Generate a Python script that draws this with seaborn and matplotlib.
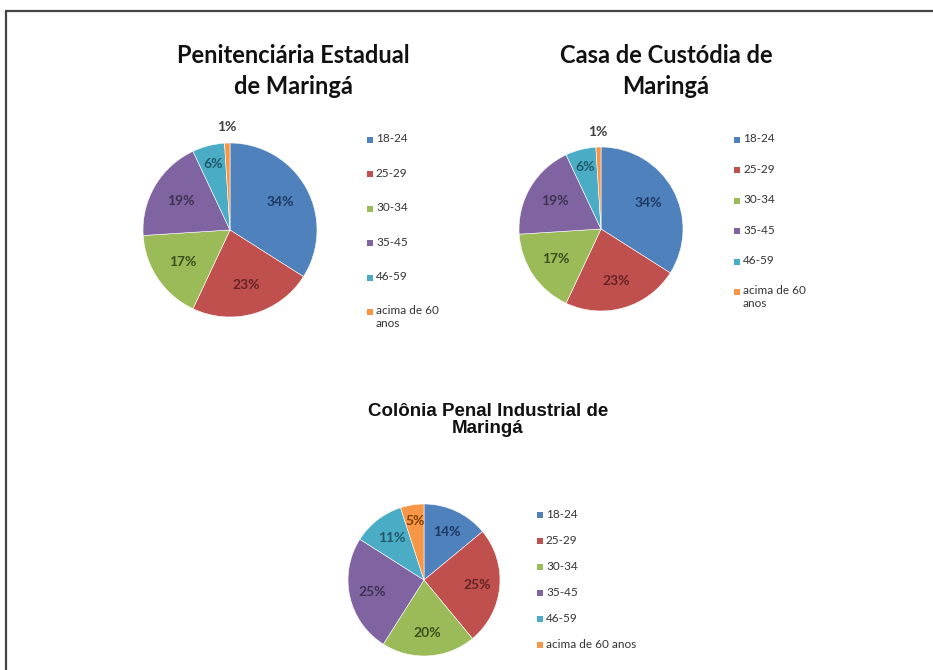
import numpy as np
import matplotlib
matplotlib.use("Agg")
import matplotlib.pyplot as plt
import seaborn as sns
from matplotlib.lines import Line2D
from matplotlib.patches import Rectangle

sns.set_theme(style="white")
plt.rcParams['font.family'] = ['Lato', 'DejaVu Sans']

# data
age_groups = ["18-24", "25-29", "30-34", "35-45", "46-59", "acima de 60 anos"]
penitenciaria = [34, 23, 17, 19, 6, 1]
casa_custodia = [34, 23, 17, 19, 6, 1]
colonia_penal = [14, 25, 20, 25, 11, 5]

titles = [
    "Penitenciária Estadual\nde Maringá",
    "Casa de Custódia de\nMaringá",
    "Colônia Penal Industrial de\nMaringá",
]

# Excel 2007 default palette
slice_colors = sns.color_palette(["#4F81BD", "#C0504D", "#9BBB59", "#8064A2", "#4BACC6", "#F79646"])
text_colors = ["#1F3864", "#632523", "#3B4F1A", "#3F3151", "#215968", "#404040"]
text_colors_3 = ["#1F3864", "#632523", "#3B4F1A", "#3F3151", "#215968", "#7F3F00"]

W, H = 933, 670
fig = plt.figure(figsize=(W / 100, H / 100), dpi=100)


def px_axes(cx, cy, r):
    return fig.add_axes([(cx - r) / W, (H - cy - r) / H, 2 * r / W, 2 * r / H])


def draw_pie(ax, values, tcolors, dist=0.66):
    wedges, _ = ax.pie(values, colors=slice_colors, startangle=90, counterclock=False,
                       wedgeprops=dict(edgecolor="white", linewidth=0.4))
    for w, v, c in zip(wedges, values, tcolors):
        ang = np.deg2rad((w.theta1 + w.theta2) / 2)
        if v < 3:
            d = 1.18
        elif v <= 6:
            d = 0.78
        else:
            d = dist
        ax.text(d * np.cos(ang), d * np.sin(ang), f"{v}%", ha="center", va="center",
                fontsize=10, fontweight="bold", color=c)
    ax.set_xlim(-1, 1)
    ax.set_ylim(-1, 1)
    ax.set_aspect("equal")
    ax.axis("off")
    return wedges


def add_legend(x, y, labels, step):
    # Excel-style legend: small square, label beside it, first line level with the square
    for i, (lab, c) in enumerate(zip(labels, slice_colors)):
        yy = y + i * step
        fig.add_artist(Rectangle(((x - 3) / W, 1 - (yy + 3) / H), 6 / W, 6 / H,
                                 transform=fig.transFigure, facecolor=c, edgecolor="none"))
        fig.text((x + 6) / W, 1 - (yy - 6.5) / H, lab, ha="left", va="top", fontsize=8.5,
                 color="#333333", linespacing=1.15)


# 1. Penitenciária
ax1 = px_axes(230, 230, 87)
draw_pie(ax1, penitenciaria, text_colors)
labels_wrapped = age_groups[:5] + ["acima de 60\nanos"]
add_legend(370, 140, labels_wrapped, 34.4)
fig.text(293 / W, 1 - 71 / H, titles[0], ha="center", va="center", fontsize=17,
         fontweight="bold", linespacing=1.45, color="#111111")

# 2. Casa de Custódia
ax2 = px_axes(601, 229, 82)
draw_pie(ax2, casa_custodia, text_colors)
add_legend(737, 140, labels_wrapped, 30.4)
fig.text(666 / W, 1 - 71 / H, titles[1], ha="center", va="center", fontsize=17,
         fontweight="bold", linespacing=1.45, color="#111111")

# 3. Colônia Penal
ax3 = px_axes(424, 580, 76)
draw_pie(ax3, colonia_penal, text_colors_3, dist=0.7)
add_legend(540, 515, age_groups, 26)
fig.text(488 / W, 1 - 420 / H, titles[2], ha="center", va="center", fontsize=13.5,
         fontweight="bold", family=["Liberation Sans", "DejaVu Sans"], linespacing=1.0,
         color="#111111")

# frame lines like the scanned figure
fig.add_artist(Line2D([6 / W, 1], [1 - 11 / H, 1 - 11 / H], color="#444444", lw=1.6))
fig.add_artist(Line2D([6 / W, 6 / W], [0, 1 - 11 / H], color="#444444", lw=1.6))

fig.savefig("out.png", dpi=100, facecolor="white")
